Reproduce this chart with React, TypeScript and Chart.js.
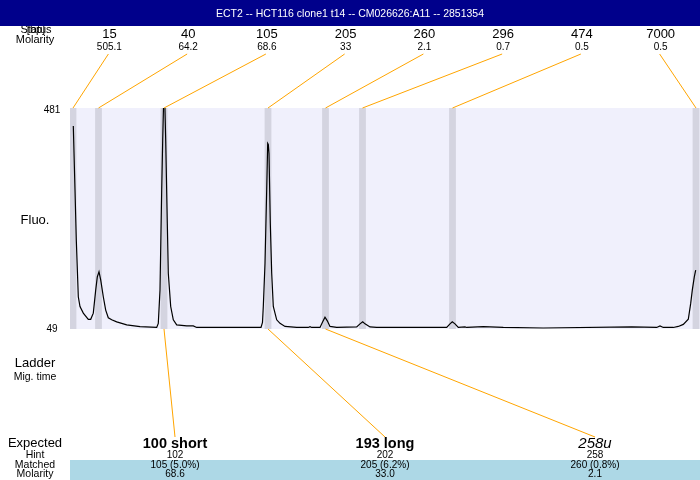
import React, { useEffect, useRef } from "react";
import { Chart, registerables } from "chart.js";

Chart.register(...registerables);

const titleText = "ECT2 -- HCT116 clone1 t14 -- CM026626:A11 -- 2851354";
const ladderSizes = ["15", "40", "105", "205", "260", "296", "474", "7000"];
const ladderMolarity = ["505.1", "64.2", "68.6", "33", "2.1", "0.7", "0.5", "0.5"];
const ladderTimes = [3, 28.5, 94, 198, 255.5, 292.5, 382.5, 626];
const expectedLabels = ["100 short", "193 long", "258u"];
const expectedStyles = ["bold", "bold", "italic"];
const hintValues = ["102", "202", "258"];
const matchedValues = ["105 (5.0%)", "205 (6.2%)", "260 (0.8%)"];
const matchedMolarity = ["68.6", "33.0", "2.1"];
const matchedLadderIndex = [2, 3, 4];
const fluoMin = 49;
const fluoMax = 481;
const timeMin = 0;
const timeMax = 630;

const traceTime = [
  3.3, 5, 6.3, 8.3, 10, 13.3, 18.3, 20.7, 23.3, 25.7, 27.3, 29, 30.7, 33.3, 35.7, 38.3, 41.7, 46.7, 51.7, 56.7,
  70, 86.7, 88.3, 90, 91.7, 92.7, 93.7, 94.7, 95.7, 97.3, 98.3, 100.7, 103.3, 106.7, 116.7, 123.3, 126.7,
  183.3, 191, 192.5, 193.3, 195, 196.7, 197.7, 198.3, 199, 200.3, 201.7, 203.3, 206.7, 210, 215, 226.7, 238.3, 240, 241.7,
  250, 252.7, 255, 257.3, 260, 266.7, 286.7, 290, 292.7, 295, 300, 306.7, 376.7, 380, 382.3, 385, 388.3,
  395, 396.7, 413.3, 433.3, 473.3, 561.7, 586.7, 590, 593.3, 603.3, 608.3, 613.3, 618.3, 620.7, 622.3, 624.3, 625.7,
];
const traceFluo = [
  446, 321, 223, 112, 93, 80, 68, 68, 80, 125, 151, 161, 145, 112, 86, 71, 67, 63, 60, 57,
  53.5, 52, 60, 125, 321, 418, 500, 500, 418, 256, 158, 93, 67, 57, 55, 55, 52,
  52, 52, 62, 93, 177, 321, 412, 410, 392, 256, 158, 93, 67, 60, 54, 52, 52, 53.5, 52,
  52, 63, 72, 65, 54, 52, 53, 59, 63, 59, 53, 52, 52, 59, 63, 59, 52,
  53, 52, 53.5, 52, 51, 53, 52, 55, 52, 52, 54, 58, 68, 99, 125, 151, 164,
];

const FONT = "'Liberation Sans', Arial, sans-serif";
const ORANGE = "#FFA500";

const overlayPlugin = {
  id: "overlay",
  beforeDraw(chart: any) {
    const { ctx, chartArea: a } = chart;
    ctx.save();
    ctx.fillStyle = "#ffffff";
    ctx.fillRect(0, 0, chart.width, chart.height);
    ctx.fillStyle = "#F0F0FC";
    ctx.fillRect(a.left, a.top, a.right - a.left, a.bottom - a.top);
    ctx.restore();
  },
  beforeDatasetsDraw(chart: any) {
    const { ctx, chartArea: a, scales } = chart;
    const xs = scales.x;
    ctx.save();
    ctx.fillStyle = "#D4D4E0";
    ladderTimes.forEach((t) => {
      const x0 = Math.max(a.left, xs.getPixelForValue(t - 3.4));
      const x1 = Math.min(a.right, xs.getPixelForValue(t + 3.4));
      ctx.fillRect(x0, a.top, x1 - x0, a.bottom - a.top);
    });
    ctx.restore();
  },
  afterDraw(chart: any) {
    const { ctx, chartArea: a, scales } = chart;
    const xs = scales.x;
    const W = chart.width;
    ctx.save();
    ctx.textAlign = "center";
    ctx.textBaseline = "middle";
    ctx.fillStyle = "#000";

    // top-left labels (partly hidden by title bar)
    ctx.font = `11px ${FONT}`;
    ctx.fillText("Status", 36, 30);
    ctx.fillText("[bp]", 36, 30);
    ctx.fillText("Molarity", 35, 40);

    // title bar
    ctx.fillStyle = "#00008B";
    ctx.fillRect(0, 0, W, 26);
    ctx.fillStyle = "#ffffff";
    ctx.font = `10.5px ${FONT}`;
    ctx.fillText(titleText, W / 2, 14);

    // ladder labels and connectors
    const slotW = (a.right - a.left) / ladderSizes.length;
    ladderSizes.forEach((s, i) => {
      const cx = a.left + slotW * (i + 0.5);
      ctx.fillStyle = "#000";
      ctx.font = `13px ${FONT}`;
      ctx.fillText(s, cx, 34);
      ctx.font = `10px ${FONT}`;
      ctx.fillText(ladderMolarity[i], cx, 47);
      ctx.strokeStyle = ORANGE;
      ctx.lineWidth = 1;
      ctx.beginPath();
      ctx.moveTo(cx - 1, 54);
      ctx.lineTo(xs.getPixelForValue(ladderTimes[i]), a.top);
      ctx.stroke();
    });

    // left labels
    ctx.fillStyle = "#000";
    ctx.font = `10px ${FONT}`;
    ctx.fillText(String(fluoMax), 52, a.top + 2);
    ctx.fillText(String(fluoMin), 52, a.bottom);
    ctx.font = `13px ${FONT}`;
    ctx.fillText("Fluo.", 35, 220);
    ctx.fillText("Ladder", 35, 363);
    ctx.font = `10.5px ${FONT}`;
    ctx.fillText("Mig. time", 35, 377);
    ctx.font = `13px ${FONT}`;
    ctx.fillText("Expected", 35, 443);
    ctx.font = `10.5px ${FONT}`;
    ctx.fillText("Hint", 35, 455);
    ctx.fillText("Matched", 35, 465);
    ctx.fillText("Molarity", 35, 474);

    // matched band
    ctx.fillStyle = "#ADD8E6";
    ctx.fillRect(a.left, 460, a.right - a.left, 20);

    const expW = (a.right - a.left) / expectedLabels.length;
    expectedLabels.forEach((lab, i) => {
      const cx = a.left + expW * (i + 0.5);
      ctx.strokeStyle = ORANGE;
      ctx.lineWidth = 1;
      ctx.beginPath();
      ctx.moveTo(xs.getPixelForValue(ladderTimes[matchedLadderIndex[i]]), a.bottom);
      ctx.lineTo(cx, 437);
      ctx.stroke();
      ctx.fillStyle = "#000";
      const st = expectedStyles[i];
      ctx.font = st === "bold" ? `bold 14.5px ${FONT}` : `italic 15px ${FONT}`;
      ctx.fillText(lab, cx, 444);
      ctx.font = `10px ${FONT}`;
      ctx.fillText(hintValues[i], cx, 455);
      ctx.fillText(matchedValues[i], cx, 465);
      ctx.fillText(matchedMolarity[i], cx, 474);
    });
    ctx.restore();
  },
};

export default function App() {
  const ref = useRef<HTMLCanvasElement | null>(null);
  useEffect(() => {
    if (!ref.current) return;
    const data = traceTime.map((t, i) => ({ x: t, y: traceFluo[i] }));
    const chart = new Chart(ref.current, {
      type: "line",
      data: {
        datasets: [
          {
            data,
            borderColor: "#000",
            borderWidth: 1.2,
            pointRadius: 0,
            tension: 0,
            fill: false,
          },
        ],
      },
      options: {
        responsive: false,
        animation: false,
        devicePixelRatio: 1,
        layout: { padding: { left: 70, right: 0, top: 108, bottom: 151 } },
        scales: {
          x: { type: "linear", min: timeMin, max: timeMax, display: false },
          y: { type: "linear", min: fluoMin, max: fluoMax, display: false },
        },
        plugins: { legend: { display: false }, tooltip: { enabled: false }, title: { display: false } },
      },
      plugins: [overlayPlugin],
    });
    return () => chart.destroy();
  }, []);
  return (
    <div style={{ position: "fixed", left: 0, top: 0, width: 700, height: 480 }}>
      <canvas ref={ref} width={700} height={480} style={{ display: "block" }} />
    </div>
  );
}
